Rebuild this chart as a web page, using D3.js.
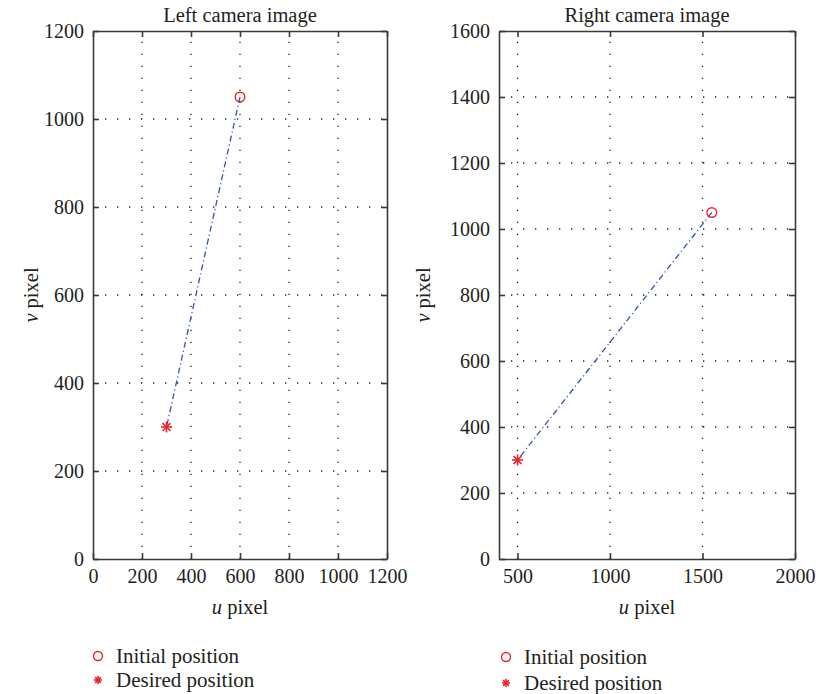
<!DOCTYPE html>
<html>
<head>
<meta charset="utf-8">
<script src="https://cdn.jsdelivr.net/npm/d3@7"></script>
<style>
  body { margin: 0; background: #fff; }
  svg text { font-family: "Liberation Serif", "DejaVu Serif", serif; fill: #231f20; }
</style>
</head>
<body>
<div id="canvas"></div>
<script>
// left camera image
const leftU = [600, 300];
const leftV = [1050, 300];
const leftXTicks = [0, 200, 400, 600, 800, 1000, 1200];
const leftYTicks = [0, 200, 400, 600, 800, 1000, 1200];

// right camera image
const rightU = [1550, 500];
const rightV = [1050, 300];
const rightXTicks = [500, 1000, 1500, 2000];
const rightYTicks = [0, 200, 400, 600, 800, 1000, 1200, 1400, 1600];

const legendLabels = ["Initial position", "Desired position"];

const width = 816;
const height = 694;
const red = "#ec2228";
const blue = "#3552b0";

const svg = d3.select("#canvas")
  .append("svg")
  .attr("width", width)
  .attr("height", height);

function drawPanel(opts) {
  const { left, right, top, bottom, xDomain, yDomain, xTicks, yTicks, u, v, title, labelX } = opts;
  const x = d3.scaleLinear().domain(xDomain).range([left, right]);
  const y = d3.scaleLinear().domain(yDomain).range([bottom, top]);
  const g = svg.append("g");

  // grid
  g.selectAll(".gx").data(xTicks.filter(t => t > xDomain[0] && t < xDomain[1])).enter()
    .append("line")
    .attr("x1", d => x(d)).attr("x2", d => x(d))
    .attr("y1", bottom).attr("y2", top)
    .style("stroke", "#222").style("stroke-width", 1.3)
    .style("stroke-dasharray", "1.3,10.7");
  g.selectAll(".gy").data(yTicks.filter(t => t > yDomain[0] && t < yDomain[1])).enter()
    .append("line")
    .attr("y1", d => y(d)).attr("y2", d => y(d))
    .attr("x1", left).attr("x2", right)
    .style("stroke", "#222").style("stroke-width", 1.3)
    .style("stroke-dasharray", "1.3,10.7");

  // axes with inward ticks on all four sides
  const fmt = d3.format("d");
  const ax = [
    [d3.axisBottom(x).tickValues(xTicks).tickFormat(fmt), `translate(0,${bottom})`],
    [d3.axisTop(x).tickValues(xTicks).tickFormat(""), `translate(0,${top})`],
    [d3.axisLeft(y).tickValues(yTicks).tickFormat(fmt), `translate(${left},0)`],
    [d3.axisRight(y).tickValues(yTicks).tickFormat(""), `translate(${right},0)`]
  ];
  ax.forEach(([axis, tr], i) => {
    const a = g.append("g").attr("transform", tr)
      .call(axis.tickSizeInner(-6).tickSizeOuter(0).tickPadding(i === 2 ? 9 : 10));
    a.select(".domain").style("stroke", "#3a3a3a").style("stroke-width", 1.6);
    a.selectAll(".tick line").style("stroke", "#3a3a3a").style("stroke-width", 1.6);
    a.selectAll(".tick text")
      .style("font-family", "'Liberation Serif', serif")
      .style("font-size", "20px").style("fill", "#231f20");
  });

  // trajectory
  const pts = u.map((d, i) => [d, v[i]]);
  g.append("path")
    .attr("d", d3.line().x(d => x(d[0])).y(d => y(d[1]))(pts))
    .style("fill", "none").style("stroke", blue).style("stroke-width", 1.3)
    .style("stroke-dasharray", "6,3,1.2,3");

  // initial position
  g.append("circle")
    .attr("cx", x(u[0])).attr("cy", y(v[0])).attr("r", 4.8)
    .style("fill", "none").style("stroke", red).style("stroke-width", 1.4);

  // desired position
  drawStar(g, x(u[u.length - 1]), y(v[v.length - 1]), 5.5);

  // title and labels
  g.append("text").attr("x", (left + right) / 2).attr("y", 22)
    .attr("text-anchor", "middle").style("font-size", "20.5px").text(title);

  const xl = g.append("text").attr("x", (left + right) / 2).attr("y", 614)
    .attr("text-anchor", "middle").style("font-size", "20.5px");
  xl.append("tspan").style("font-style", "italic").text("u");
  xl.append("tspan").text(" pixel");

  const yl = g.append("text")
    .attr("transform", `translate(${labelX},${(top + bottom) / 2}) rotate(-90)`)
    .attr("text-anchor", "middle").style("font-size", "20.5px");
  yl.append("tspan").style("font-style", "italic").text("v");
  yl.append("tspan").text(" pixel");
}

function drawStar(g, cx, cy, r) {
  const d = r * 0.72;
  const segs = [[-r, 0, r, 0], [0, -r, 0, r], [-d, -d, d, d], [-d, d, d, -d]];
  g.append("g").selectAll("line").data(segs).enter()
    .append("line")
    .attr("x1", s => cx + s[0]).attr("y1", s => cy + s[1])
    .attr("x2", s => cx + s[2]).attr("y2", s => cy + s[3])
    .style("stroke", red).style("stroke-width", 1.6);
}

function drawLegend(lx, ly, gap) {
  const g = svg.append("g");
  g.append("circle").attr("cx", lx).attr("cy", ly).attr("r", 4.5)
    .style("fill", "none").style("stroke", red).style("stroke-width", 1.4);
  drawStar(g, lx, ly + gap, 4);
  g.selectAll("text").data(legendLabels).enter()
    .append("text")
    .attr("x", lx + 18).attr("y", (d, i) => ly + 7 + i * gap)
    .style("font-size", "21px").text(d => d);
}

drawPanel({
  left: 93, right: 387, top: 31, bottom: 559,
  xDomain: [0, 1200], yDomain: [0, 1200],
  xTicks: leftXTicks, yTicks: leftYTicks,
  u: leftU, v: leftV, title: "Left camera image", labelX: 38
});

drawPanel({
  left: 499, right: 795, top: 31, bottom: 559,
  xDomain: [400, 2000], yDomain: [0, 1600],
  xTicks: rightXTicks, yTicks: rightYTicks,
  u: rightU, v: rightV, title: "Right camera image", labelX: 430
});

drawLegend(98, 656, 24);
drawLegend(506, 657, 26);
</script>
</body>
</html>
